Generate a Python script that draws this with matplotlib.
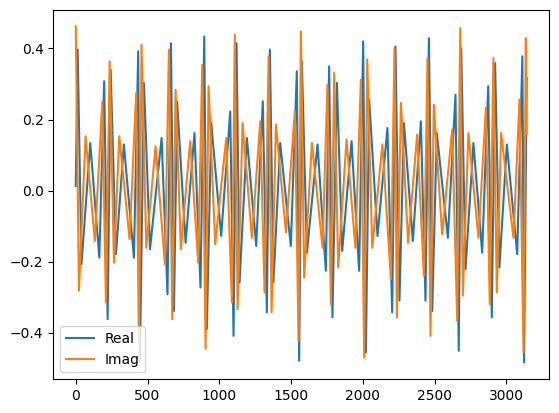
import matplotlib
matplotlib.use("Agg")
import matplotlib.pyplot as plt

# Local extrema (sample index, value)
real_x = [0, 13, 40, 101, 164, 198, 222, 243, 280, 335, 405, 435, 447, 475, 517,
          598, 639, 663, 684, 706, 765, 827, 869, 895, 913, 944, 1013, 1076, 1099,
          1120, 1141, 1192, 1257, 1303, 1331, 1352, 1377, 1424, 1498, 1540, 1556,
          1575, 1610, 1684, 1742, 1765, 1788, 1819, 1856, 1921, 1974, 2002, 2021,
          2044, 2102, 2171, 2204, 2227, 2255, 2286, 2348, 2404, 2436, 2460, 2483,
          2515, 2592, 2645, 2668, 2685, 2715, 2770, 2831, 2873, 2898, 2921, 2951,
          3003, 3075, 3111, 3123, 3141]
real_y = [0.013, 0.397, -0.207, 0.134, -0.189, 0.308, -0.362, 0.340, -0.179, 0.130,
          -0.189, 0.392, -0.479, 0.303, -0.165, 0.148, -0.292, 0.415, -0.339, 0.25,
          -0.147, 0.162, -0.273, 0.434, -0.390, 0.190, -0.128, 0.223, -0.409, 0.415,
          -0.259, 0.148, -0.156, 0.251, -0.343, 0.397, -0.259, 0.134, -0.156, 0.336,
          -0.479, 0.364, -0.175, 0.130, -0.226, 0.350, -0.357, 0.303, -0.170, 0.139,
          -0.226, 0.420, -0.456, 0.256, -0.128, 0.176, -0.343, 0.406, -0.310, 0.190,
          -0.142, 0.195, -0.310, 0.429, -0.339, 0.162, -0.133, 0.270, -0.451, 0.401,
          -0.221, 0.134, -0.175, 0.294, -0.357, 0.359, -0.217, 0.130, -0.179, 0.378,
          -0.484, 0.317]

imag_x = [0, 22, 68, 133, 185, 210, 236, 266, 303, 375, 421, 440, 458, 491, 556,
          621, 649, 672, 695, 732, 797, 853, 881, 904, 925, 971, 1048, 1088, 1108,
          1127, 1162, 1227, 1285, 1315, 1343, 1364, 1394, 1464, 1526, 1552, 1568,
          1591, 1645, 1719, 1753, 1777, 1800, 1828, 1886, 1948, 1986, 2009, 2030,
          2065, 2136, 2195, 2220, 2237, 2265, 2315, 2378, 2425, 2450, 2471, 2494,
          2552, 2622, 2657, 2678, 2696, 2735, 2805, 2857, 2884, 2909, 2933, 2963,
          3049, 3091, 3119, 3135, 3141]
imag_y = [0.462, -0.282, 0.153, -0.142, 0.251, -0.315, 0.364, -0.203, 0.153, -0.137,
          0.275, -0.432, 0.411, -0.161, 0.125, -0.207, 0.397, -0.362, 0.284, -0.165,
          0.139, -0.203, 0.354, -0.446, 0.294, -0.151, 0.148, -0.315, 0.439, -0.334,
          0.190, -0.133, 0.195, -0.287, 0.378, -0.343, 0.186, -0.118, 0.223, -0.423,
          0.448, -0.245, 0.134, -0.161, 0.298, -0.320, 0.331, -0.217, 0.144, -0.161,
          0.312, -0.470, 0.369, -0.161, 0.130, -0.249, 0.401, -0.357, 0.247, -0.147,
          0.158, -0.240, 0.373, -0.409, 0.242, -0.123, 0.172, -0.367, 0.457, -0.296,
          0.162, -0.133, 0.233, -0.320, 0.373, -0.287, 0.162, -0.133, 0.256, -0.456,
          0.429, 0.16]

series_labels = ["Real", "Imag"]

fig, ax = plt.subplots(figsize=(6.4, 4.8), dpi=100)
ax.plot(real_x, real_y, label=series_labels[0])
ax.plot(imag_x, imag_y, label=series_labels[1])
ax.legend(loc="lower left")
fig.savefig("out.png", dpi=100, bbox_inches="tight")
